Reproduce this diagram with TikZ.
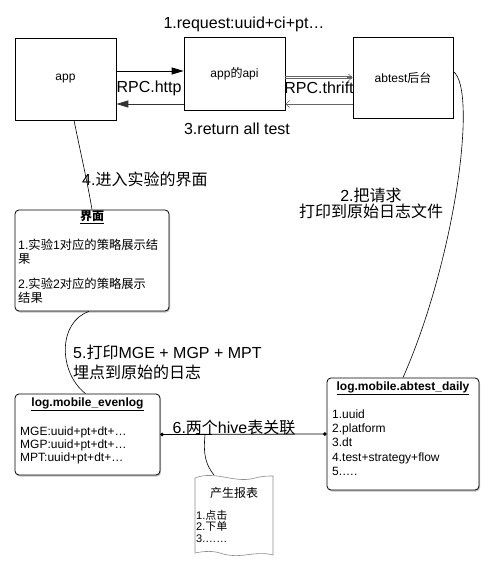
\documentclass[tikz,border=0pt]{standalone}
\usepackage{fontspec}
\setmainfont{Liberation Sans}
\newfontfamily\cjk{Noto Sans CJK SC}
\newcommand\zh[1]{{\cjk #1}}
\usetikzlibrary{arrows.meta,shadows}
\begin{document}
\begin{tikzpicture}[x=1pt,y=-1pt,
  box/.style={draw,line width=0.7pt,inner sep=0pt,font=\fontsize{12}{14}\selectfont},
  rbox/.style={draw,line width=0.8pt,rounded corners=4pt,fill=white,inner sep=0pt,
    drop shadow={shadow xshift=1pt,shadow yshift=-1.5pt,fill=black!50,opacity=0.5}},
  big/.style={font=\fontsize{16}{19}\selectfont,inner sep=0pt},
  small/.style={font=\fontsize{12}{14}\selectfont,inner sep=0pt,anchor=west},
  uitext/.style={font=\fontsize{12.3}{13.8}\selectfont,inner sep=0pt,anchor=west,align=left},
  tiny/.style={font=\fontsize{11}{11.5}\selectfont,inner sep=0pt,anchor=north west,align=left},
  ttl/.style={font=\fontsize{12}{14}\selectfont\bfseries,inner sep=0pt},
  solidarrow/.style={line width=0.8pt,-{Triangle[length=12pt,width=7pt]}},
  openarrow/.style={line width=0.5pt,black!60,-{Straight Barb[length=4pt,width=7pt]}},
  thinline/.style={line width=0.4pt,black!60},
  curve/.style={line width=0.6pt}
]
\useasboundingbox (0,0) rectangle (494,567);

% top boxes
\node[box,minimum width=101pt,minimum height=82pt] (app) at (65.5,79) {app};
\node[box,minimum width=101pt,minimum height=73pt] (api) at (234.5,73.5) {app\zh{的}api};
\node[box,minimum width=100pt,minimum height=81pt] (ab) at (403,77.5) {abtest\zh{后台}};

\node[big] (l1) at (244,24) {1.request:uuid+ci+pt…};
\node[big] (lhttp) at (149,88) {RPC.http};
\node[big] (lthrift) at (319,88) {RPC.thrift};
\node[big] (l3) at (237,129) {3.return all test};

\draw[solidarrow] ([yshift=8pt]app.east) -- ([yshift=8pt]app.east -| api.west);
\draw[solidarrow,black!80] ([yshift=-30.5pt]api.west) -- ([yshift=-30.5pt]api.west -| app.east);
\draw[thinline] ([yshift=-3.2pt]api.east) -- ([yshift=-3.2pt,xshift=-1pt]api.east -| ab.west);
\draw[thinline] ([yshift=-4.8pt]api.east) -- ([yshift=-4.8pt,xshift=-1pt]api.east -| ab.west);
\draw[openarrow] ([yshift=-4pt,xshift=-6pt]api.east -| ab.west) -- ([yshift=-4pt]api.east -| ab.west);
\draw[openarrow] ([yshift=-30.5pt]api.east -| ab.west) -- ([yshift=-30.5pt]api.east);

% UI box
\node[rbox,minimum width=154pt,minimum height=101pt] (ui) at (92,260.5) {};
\node[ttl] (uit) at (92,217) {\underline{\zh{\bfseries 界面}}};
\node[uitext] (u1) at (18,252) {1.\zh{实验}1\zh{对应的策略展示结}\\\zh{果}};
\node[uitext] (u3) at (18,291) {2.\zh{实验}2\zh{对应的策略展示}\\\zh{结果}};

\draw[curve] ([xshift=8.5pt]app.south) .. controls (80,150) and (88,185) .. (ui.north);
\node[big,anchor=west] (l4) at (82,179) {4.\zh{进入实验的界面}};

% evenlog box
\node[rbox,minimum width=145pt,minimum height=81pt] (ev) at (87.5,434.5) {};
\node[ttl] (evt) at (87.5,404) {\underline{log.mobile\_evenlog}};
\node[small,align=left,font=\fontsize{12}{13}\selectfont] (e1) at (20,445) {MGE:uuid+pt+dt+…\\MGP:uuid+pt+dt+…\\MPT:uuid+pt+dt+…};

\draw[curve] ([xshift=-3pt]ui.south) .. controls (58,322) and (58,372) .. ([xshift=-2pt]ev.north);
\node[big,anchor=west,align=left,font=\fontsize{16}{20}\selectfont] (l5) at (73,362) {5.\zh{打印}MGE + MGP + MPT\\\zh{埋点到原始的日志}};

% daily box
\node[rbox,minimum width=152pt,minimum height=112pt] (dy) at (403,434) {};
\node[ttl] (dyt) at (403,388) {\underline{log.mobile.abtest\_daily}};
\node[small,align=left,font=\fontsize{12}{14.3}\selectfont] (d1) at (332,442.5) {1.uuid\\2.platform\\3.dt\\4.test+strategy+flow\\5.….};

\draw[curve] ([yshift=6pt]ab.east) .. controls (478,90) and (455,260) .. (dy.north);
\node[big,align=center,font=\fontsize{16}{16}\selectfont] (l2) at (371,203) {2.\zh{把请求}\\\zh{打印到原始日志文件}};

% join
\draw[line width=0.8pt,{Circle[length=3.5pt]}-{Circle[length=3.5pt]}] (ev.east) -- (dy.west);
\node[big] (l6) at (234,427) {6.\zh{两个}hive\zh{表关联}};
\coordinate (j) at (205,435);

% document
\draw[black!45,line width=0.6pt,fill=white]
  (195,478) .. controls (215,470) and (235,484) .. (255,478)
  .. controls (262,476) and (268,476) .. (273,476)
  -- (273,555) .. controls (255,550) and (240,560) .. (220,553)
  .. controls (210,550) and (200,552) .. (195,553) -- cycle;
\coordinate (dtop) at (214,475);
\draw[curve] (j) .. controls (203,455) and (206,465) .. (dtop);
\node[font=\fontsize{12}{14}\selectfont,inner sep=0pt] (d0) at (234,493) {\zh{产生报表}};
\node[tiny] (p1) at (196,510) {1.\zh{点击}\\2.\zh{下单}\\3.……};
\end{tikzpicture}
\end{document}
